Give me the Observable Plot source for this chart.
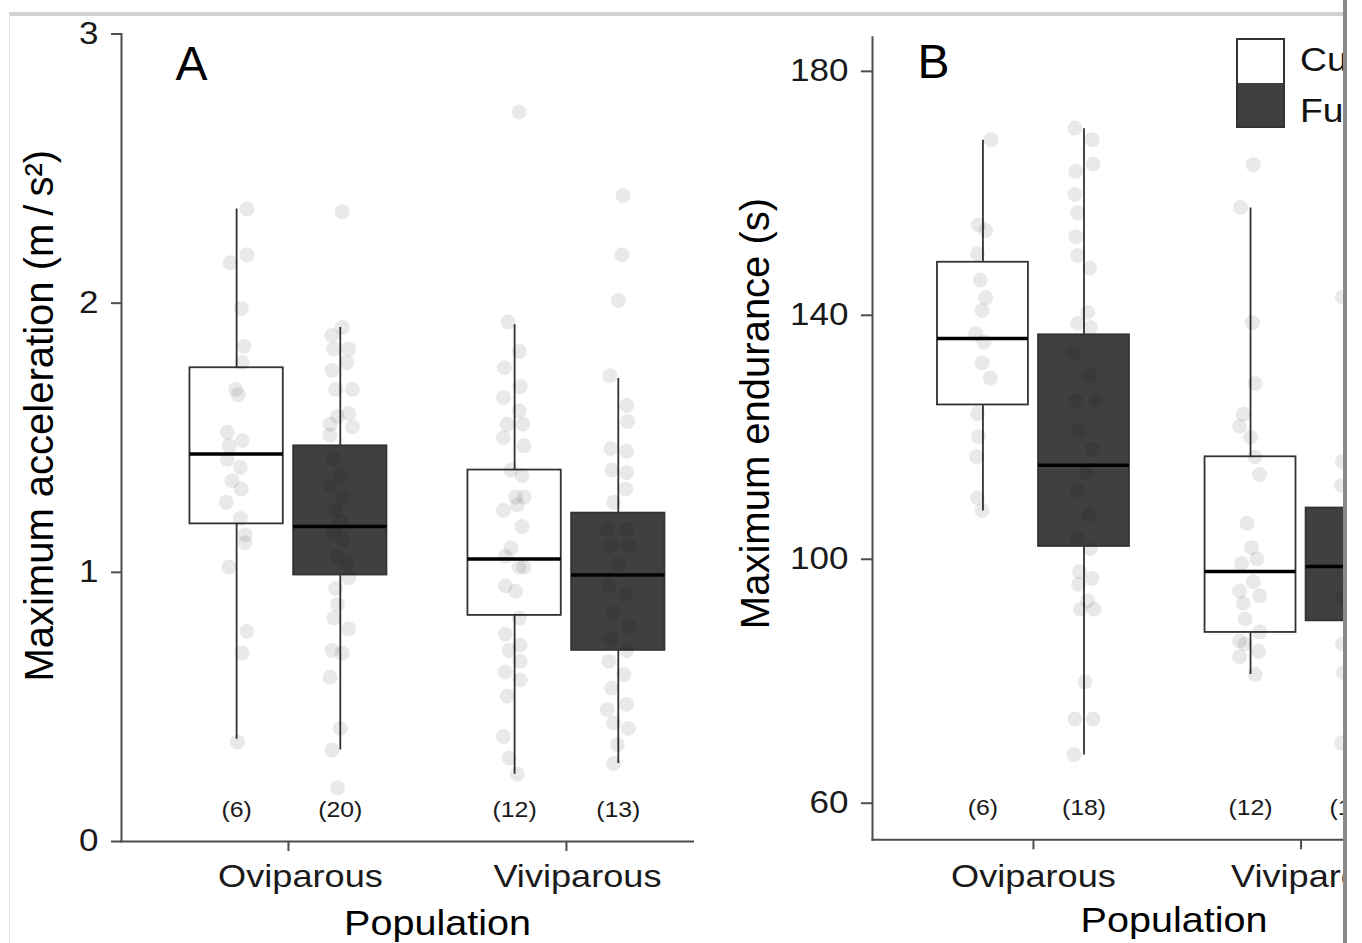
<!DOCTYPE html>
<html>
<head>
<meta charset="utf-8">
<script src="https://cdn.jsdelivr.net/npm/d3@7"></script>
<script src="https://cdn.jsdelivr.net/npm/@observablehq/plot@0.6"></script>
<style>
  html, body { margin: 0; padding: 0; background: #fff; }
  #page { position: relative; width: 1362px; height: 943px; overflow: hidden; background: #fff; }
  #clip { position: absolute; left: 0; top: 0; width: 1343px; height: 943px; overflow: hidden; }
  #panelA, #panelB { position: absolute; top: 0; height: 943px; }
  #panelA { left: 0; width: 760px; }
  #panelB { left: 694px; width: 790px; }
  #panelA svg, #panelB svg { display: block; max-width: none !important; }
  .topline { position: absolute; left: 9px; top: 12px; width: 1334px; height: 4px; background: #d2d2d2; }
  .leftline { position: absolute; left: 9px; top: 14px; width: 1px; height: 929px; background: #e6e6e6; }
  .rightbar { position: absolute; left: 1343px; top: 0; width: 4px; height: 943px; background: #8a8a8a; }
  #legend { position: absolute; left: 1236px; top: 38px; font-family: "Liberation Sans", Arial, sans-serif; }
  #legend .keys { position: absolute; left: 0; top: 0; width: 49px; height: 90px; box-sizing: border-box; border: 2px solid #333; }
  #legend .k1 { height: 43px; background: #fff; }
  #legend .k2 { height: 43px; background: #404040; }
  #legend .lab { position: absolute; left: 64px; font-size: 33px; line-height: 33px; color: #111; white-space: nowrap; transform: scaleX(1.13); transform-origin: left center; }
</style>
</head>
<body>
<div id="page">
  <div id="clip">
    <div id="panelA"></div>
    <div id="panelB"></div>
    <div id="legend">
      <div class="keys"><div class="k1"></div><div class="k2"></div></div>
      <div class="lab" id="lab1" style="top:5px"></div>
      <div class="lab" id="lab2" style="top:56px"></div>
    </div>
  </div>
  <div class="topline"></div>
  <div class="leftline"></div>
  <div class="rightbar"></div>
</div>
<script>
// ---------------- data ----------------
const populations = ["Oviparous", "Viviparous"];
const scenarios = ["Current", "Future"];
const scenarioFill = ["#ffffff", "#404040"];

// box order: Oviparous-Current, Oviparous-Future, Viviparous-Current, Viviparous-Future
const boxPopulation = ["Oviparous", "Oviparous", "Viviparous", "Viviparous"];
const boxScenario = ["Current", "Future", "Current", "Future"];

// Panel A: maximum acceleration (m/s²)
const accLower  = [0.38, 0.34, 0.25, 0.29];
const accQ1     = [1.18, 0.99, 0.84, 0.71];
const accMedian = [1.44, 1.17, 1.05, 0.99];
const accQ3     = [1.76, 1.47, 1.38, 1.22];
const accUpper  = [2.35, 1.91, 1.92, 1.72];
const accN      = [6, 20, 12, 13];
const accTicks  = [0, 1, 2, 3];

// Panel B: maximum endurance (s)
const endLower  = [107.9, 67.9, 81.1, 70.0];
const endQ1     = [125.3, 102.1, 88.0, 89.9];
const endMedian = [136.2, 115.4, 98.0, 98.8];
const endQ3     = [148.7, 136.8, 116.8, 108.4];
const endUpper  = [168.7, 170.6, 157.6, 143.0];
const endN      = [6, 18, 12, 13];
const endTicks  = [60, 100, 140, 180];

// individual observations (value) and their horizontal jitter (fraction of box width)
const accOviCurrent = [2.35, 2.18, 2.15, 1.98, 1.84, 1.78, 1.68, 1.66, 1.52, 1.49, 1.47, 1.42, 1.39, 1.34, 1.31, 1.26, 1.20, 1.14, 1.11, 1.02, 0.78, 0.70, 0.37];
const accOviCurrentJitter = [0.11, 0.11, -0.07, 0.05, 0.08, 0.06, -0.01, 0.02, -0.10, 0.06, -0.08, -0.10, 0.04, -0.05, 0.05, -0.11, 0.04, 0.09, 0.09, -0.08, 0.11, 0.06, 0.01];
const accOviFuture = [2.34, 1.91, 1.88, 1.83, 1.83, 1.78, 1.75, 1.68, 1.68, 1.59, 1.58, 1.54, 1.55, 1.51, 1.42, 1.36, 1.32, 1.28, 1.23, 1.19, 1.15, 1.12, 1.06, 1.03, 0.98, 0.94, 0.88, 0.83, 0.79, 0.71, 0.70, 0.61, 0.42, 0.34, 0.20];
const accOviFutureJitter = [0.02, 0.02, -0.09, -0.07, 0.09, 0.07, -0.09, -0.05, 0.13, 0.09, -0.03, 0.13, -0.11, -0.11, -0.07, 0.00, -0.11, 0.03, -0.05, 0.00, -0.07, 0.03, -0.03, 0.07, 0.09, -0.05, -0.03, -0.07, 0.09, -0.09, 0.02, -0.11, 0.00, -0.09, -0.03];
const accViviCurrent = [2.71, 1.93, 1.82, 1.76, 1.69, 1.65, 1.60, 1.55, 1.55, 1.50, 1.47, 1.38, 1.36, 1.28, 1.28, 1.23, 1.25, 1.17, 1.09, 1.06, 1.02, 1.02, 0.95, 0.93, 0.83, 0.77, 0.73, 0.71, 0.67, 0.63, 0.60, 0.54, 0.39, 0.31, 0.25];
const accViviCurrentJitter = [0.05, -0.07, 0.05, -0.11, 0.06, -0.12, 0.05, -0.08, 0.09, -0.12, 0.10, -0.04, 0.08, 0.01, 0.10, -0.12, 0.03, 0.08, -0.04, -0.10, 0.05, 0.10, -0.10, 0.01, 0.05, -0.10, 0.06, -0.06, 0.06, -0.10, 0.06, -0.08, -0.12, -0.06, 0.03];
const accViviFuture = [2.40, 2.18, 2.01, 1.73, 1.62, 1.56, 1.46, 1.45, 1.38, 1.37, 1.31, 1.26, 1.16, 1.16, 1.10, 1.10, 1.03, 0.95, 0.92, 0.85, 0.80, 0.75, 0.71, 0.67, 0.62, 0.57, 0.51, 0.49, 0.44, 0.42, 0.36, 0.29];
const accViviFutureJitter = [0.05, 0.04, 0.00, -0.09, 0.09, 0.10, -0.08, 0.09, -0.07, 0.09, 0.08, -0.05, -0.12, 0.09, -0.08, 0.11, 0.00, -0.10, 0.08, -0.05, 0.11, -0.08, 0.09, -0.10, 0.06, -0.07, 0.09, -0.12, -0.05, 0.11, -0.01, -0.05];

const endOviCurrent = [168.8, 154.8, 153.9, 150.1, 145.8, 142.9, 140.8, 137.0, 135.6, 132.2, 129.7, 123.9, 120.1, 116.8, 110.1, 108.0];
const endOviCurrentJitter = [0.09, -0.05, 0.03, -0.06, -0.03, 0.03, -0.01, -0.08, 0.01, -0.01, 0.08, -0.06, -0.05, -0.07, -0.06, -0.01];
const endOviFuture = [170.7, 168.8, 164.8, 163.6, 159.8, 156.8, 152.9, 149.8, 147.7, 140.5, 138.7, 138.0, 133.9, 130.1, 126.0, 126.0, 121.1, 118.0, 114.2, 111.1, 107.3, 103.5, 101.8, 98.0, 96.9, 95.9, 93.2, 91.8, 91.8, 79.9, 73.8, 73.8, 68.0];
const endOviFutureJitter = [-0.10, 0.09, 0.10, -0.09, -0.10, -0.07, -0.09, -0.07, 0.06, 0.04, -0.07, 0.07, -0.11, 0.07, -0.09, 0.13, -0.06, 0.09, 0.02, -0.07, 0.05, -0.07, 0.07, -0.05, 0.09, -0.06, 0.04, 0.11, -0.04, 0.01, -0.10, 0.10, -0.11];
const endViviCurrent = [164.7, 157.7, 138.8, 128.8, 123.8, 121.8, 120.0, 116.8, 113.9, 105.9, 101.9, 100.1, 99.3, 96.3, 94.8, 94.0, 92.8, 90.2, 88.1, 86.6, 86.1, 84.9, 84.0, 81.1];
const endViviCurrentJitter = [0.03, -0.11, 0.02, 0.05, -0.08, -0.12, 0.00, 0.05, 0.10, -0.04, 0.01, 0.07, -0.10, 0.03, -0.12, 0.10, -0.08, -0.06, 0.10, -0.12, -0.06, 0.09, -0.12, 0.05];
const endViviFuture = [143.0, 116.0, 112.1, 93.7, 86.1, 81.4, 69.9];
const endViviFutureJitter = [-0.10, -0.10, -0.11, -0.10, -0.10, -0.09, -0.11];

// ---------------- build tables ----------------
function boxTable(lo, q1, med, q3, hi, n) {
  return boxPopulation.map((p, i) => ({population: p, scenario: boxScenario[i], lo: lo[i], q1: q1[i], med: med[i], q3: q3[i], hi: hi[i], n: n[i]}));
}
function pointTable(groups) {
  return groups.flatMap(([population, scenario, vals, jit]) =>
    vals.map((v, i) => ({population, scenario, value: v, jitter: jit[i]})));
}
const boxesA = boxTable(accLower, accQ1, accMedian, accQ3, accUpper, accN);
const boxesB = boxTable(endLower, endQ1, endMedian, endQ3, endUpper, endN);
const pointsA = pointTable([
  ["Oviparous", "Current", accOviCurrent, accOviCurrentJitter],
  ["Oviparous", "Future", accOviFuture, accOviFutureJitter],
  ["Viviparous", "Current", accViviCurrent, accViviCurrentJitter],
  ["Viviparous", "Future", accViviFuture, accViviFutureJitter]
]);
const pointsB = pointTable([
  ["Oviparous", "Current", endOviCurrent, endOviCurrentJitter],
  ["Oviparous", "Future", endOviFuture, endOviFutureJitter],
  ["Viviparous", "Current", endViviCurrent, endViviCurrentJitter],
  ["Viviparous", "Future", endViviFuture, endViviFutureJitter]
]);

// ---------------- drawing ----------------
const FONT = "'Liberation Sans', Arial, Helvetica, sans-serif";
const AXIS = "#4d4d4d";
const INK = "#1a1a1a";
const DODGE_PAD = 0.1;
const TEXT_STRETCH = 1.13;

function panel(cfg) {
  const {boxes, points, yDomain, yTicks, yTitle, letter, width, height, margin, band, tick, titles, labelDx, background} = cfg;
  const W = width - margin.left - margin.right;
  const n = populations.length;
  const step = W / (n - band.paddingInner + 2 * band.paddingOuter);
  const bw = step * (1 - band.paddingInner);
  const boxW = bw * (1 - DODGE_PAD) / (2 - DODGE_PAD);
  const shift = bw / 2 - boxW / 2;
  const inset = bw - boxW;
  const fillOf = s => scenarioFill[scenarios.indexOf(s)];

  const marks = [
    Plot.frame({anchor: "left", stroke: AXIS, strokeWidth: 2}),
    Plot.frame({anchor: "bottom", stroke: AXIS, strokeWidth: 2}),
    Plot.axisY({ticks: yTicks, tickFormat: d => String(d), tickSize: tick.y, tickPadding: tick.yPad, fontSize: 31, label: null, stroke: AXIS, strokeWidth: 2, fill: INK}),
    Plot.axisX({tickSize: 10, tickFormat: () => null, label: null, stroke: AXIS, strokeWidth: 2}),
    ...populations.map((p, i) => Plot.text([p], {x: d => d, text: d => d, frameAnchor: "bottom", lineAnchor: "top",
      textAnchor: "middle", fontSize: 32, fill: INK, dx: labelDx[i], dy: 10 + tick.xPad})),
    Plot.text([yTitle], {text: d => d, frameAnchor: "left", rotate: -90, lineAnchor: "top", textAnchor: "middle",
      fontSize: 40, fill: "#000", dx: titles.yDx, dy: titles.yDy}),
    Plot.text(["Population"], {text: d => d, frameAnchor: "bottom", lineAnchor: "top", textAnchor: "middle",
      fontSize: 35, fill: "#000", dy: titles.xDy}),
    Plot.text([letter], {text: d => d, frameAnchor: "top-left", lineAnchor: "top", textAnchor: "start",
      fontSize: 48, fill: "#000", dx: titles.lDx, dy: titles.lDy})
  ];

  for (const s of scenarios) {
    const B = boxes.filter(d => d.scenario === s);
    const dx = s === "Current" ? -shift : shift;
    marks.push(Plot.ruleX(B, {x: "population", y1: "lo", y2: "hi", dx, stroke: "#333", strokeWidth: 1.8}));
  }
  for (const s of scenarios) {
    const B = boxes.filter(d => d.scenario === s);
    const side = s === "Current" ? {insetRight: inset} : {insetLeft: inset};
    marks.push(Plot.barY(B, {x: "population", y1: "q1", y2: "q3", ...side, fill: fillOf(s), stroke: "#333", strokeWidth: 1.8}));
    marks.push(Plot.tickY(B, {x: "population", y: "med", ...side, stroke: "#000", strokeWidth: 3.5}));
  }
  for (const s of scenarios) {
    const P = points.filter(d => d.scenario === s);
    const J = P.map(d => d.jitter * boxW);
    const dx = s === "Current" ? -shift : shift;
    marks.push(Plot.dot(P, {
      x: "population", y: "value", dx, r: 7.5, fill: "#000", fillOpacity: 0.085, stroke: "none",
      render(index, scales, values, dimensions, context, next) {
        const X = Array.from(values.x, (x, i) => x + J[i]);
        return next(index, scales, {...values, x: X}, dimensions, context);
      }
    }));
    const B = boxes.filter(d => d.scenario === s);
    marks.push(Plot.text(B, {x: "population", text: d => `(${d.n})`, dx, frameAnchor: "bottom", dy: -31.5,
      lineAnchor: "middle", fontSize: 22, fill: INK}));
  }

  const svg = Plot.plot({
    width, height,
    marginLeft: margin.left, marginRight: margin.right, marginTop: margin.top, marginBottom: margin.bottom,
    style: {fontFamily: FONT, background, maxWidth: "none"},
    x: {domain: populations, paddingInner: band.paddingInner, paddingOuter: band.paddingOuter, align: band.align, round: false, label: null},
    y: {domain: yDomain, label: null},
    marks
  });
  svg.setAttribute("width", width);
  svg.setAttribute("height", height);
  svg.style.width = width + "px";
  svg.style.height = height + "px";
  // the reference typesetting is horizontally wide: widen the horizontal labels about their anchors
  svg.querySelectorAll("text").forEach(t => {
    const s = t.textContent;
    if (s === letter || s === yTitle) return;
    t.setAttribute("transform", (t.getAttribute("transform") || "") + ` scale(${TEXT_STRETCH},1)`);
  });
  return svg;
}

document.getElementById("panelA").appendChild(panel({
  boxes: boxesA, points: pointsA, yDomain: [0, 3], yTicks: accTicks,
  yTitle: "Maximum acceleration (m\u2009/\u2009s\u00B2)", letter: "A",
  width: 760, height: 943,
  margin: {left: 121, right: 7, top: 33.5, bottom: 102},
  band: {paddingInner: 0.2914, paddingOuter: 0.2824, align: 0.436},
  tick: {y: 10, yPad: 13, xPad: 13},
  titles: {yDx: -96.5, yDy: -22, xDy: 69, lDx: 54, lDy: 11.5},
  labelDx: [12, 11],
  background: "transparent"
}));

document.getElementById("panelB").appendChild(panel({
  boxes: boxesB, points: pointsB, yDomain: [54, 185.6], yTicks: endTicks,
  yTitle: "Maximum endurance (s)", letter: "B",
  width: 790, height: 943,
  margin: {left: 178, right: 9, top: 36.7, bottom: 103.7},
  band: {paddingInner: 0.2825, paddingOuter: 0.268, align: 0.453},
  tick: {y: 11, yPad: 13, xPad: 14},
  titles: {yDx: -132, yDy: -25, xDy: 67.5, lDx: 45, lDy: 6.3},
  labelDx: [0, 14],
  background: "#ffffff"
}));

document.getElementById("lab1").textContent = scenarios[0];
document.getElementById("lab2").textContent = scenarios[1];
</script>
</body>
</html>
